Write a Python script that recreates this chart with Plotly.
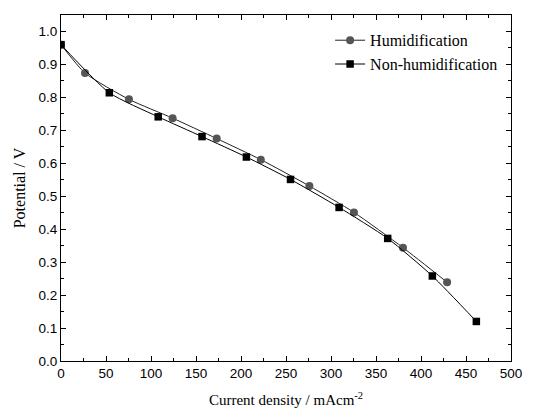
import plotly.graph_objects as go

hum_x = [0, 26.7, 75.5, 124, 173, 222, 276, 325.5, 380, 429]
hum_y = [0.960, 0.874, 0.794, 0.737, 0.675, 0.611, 0.531, 0.451, 0.344, 0.239]
non_x = [0, 53.7, 108, 156.7, 206, 255, 309, 363, 412.6, 461.5]
non_y = [0.960, 0.814, 0.741, 0.681, 0.619, 0.551, 0.466, 0.372, 0.258, 0.120]

SANS = "Liberation Sans"
SERIF = "Liberation Serif"

fig = go.Figure()
fig.add_trace(go.Scatter(x=hum_x, y=hum_y, mode="lines+markers", name="Humidification",
                         line=dict(color="#222222", width=1, shape="spline", smoothing=0.6),
                         marker=dict(symbol="circle", size=8, color="#555555")))
fig.add_trace(go.Scatter(x=non_x, y=non_y, mode="lines+markers", name="Non-humidification",
                         line=dict(color="black", width=1, shape="spline", smoothing=0.6),
                         marker=dict(symbol="square", size=7.5, color="black")))

axis_common = dict(showline=True, linecolor="black", linewidth=1.2, mirror="ticks",
                   ticks="inside", ticklen=5, tickcolor="black", showgrid=False, zeroline=False,
                   automargin=False,
                   tickfont=dict(family=SANS, size=13.5, color="black"))
fig.update_xaxes(range=[0, 500], dtick=50, tick0=0,
                 minor=dict(ticks="inside", ticklen=3, dtick=25, tickcolor="black"),
                 title=dict(text="Current density / mAcm<sup>-2</sup>",
                            font=dict(family=SERIF, size=15, color="black"),
                            standoff=14),
                 **axis_common)
fig.update_yaxes(range=[0, 1.05], dtick=0.1, tick0=0, tickformat=".1f",
                 minor=dict(ticks="inside", ticklen=3, dtick=0.05, tickcolor="black"),
                 title=dict(text="Potential / V",
                            font=dict(family=SERIF, size=16, color="black"),
                            standoff=8),
                 **axis_common)
fig.update_layout(width=546, height=414, margin=dict(l=53, r=43, t=7, b=61),
                  plot_bgcolor="white", paper_bgcolor="white",
                  legend=dict(x=0.598, y=0.976, xanchor="left", yanchor="top",
                              bgcolor="rgba(0,0,0,0)", tracegroupgap=0,
                              font=dict(family=SERIF, size=16, color="black")),
                  showlegend=True)
fig.write_html("out.html")
